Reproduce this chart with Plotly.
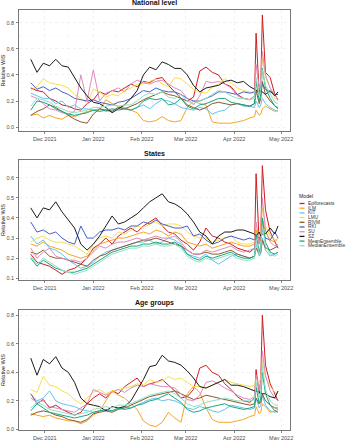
import plotly.graph_objects as go

dates = ["2021-11-22","2021-11-26","2021-11-30","2021-12-04","2021-12-08","2021-12-12","2021-12-16","2021-12-20",
         "2021-12-24","2021-12-28","2022-01-01","2022-01-05","2022-01-09","2022-01-13","2022-01-17","2022-01-21",
         "2022-01-25","2022-01-29","2022-02-02","2022-02-06","2022-02-10","2022-02-14","2022-02-18","2022-02-22",
         "2022-02-26","2022-03-02","2022-03-06","2022-03-10","2022-03-14","2022-03-18","2022-03-22","2022-03-26",
         "2022-03-30","2022-04-03","2022-04-07","2022-04-11","2022-04-14","2022-04-15","2022-04-17","2022-04-18",
         "2022-04-19","2022-04-21","2022-04-24","2022-04-27","2022-04-29"]

models = ["Epiforecasts","ILM","KIT","LMU","RIVM","RKI","SU","SZ","MeanEnsemble","MedianEnsemble"]
colors = ["#D01C1F","#F5A623","#66C2F0","#F7E04B","#8B5A2B","#4B5FC4","#E08BBE","#1A1A1A","#17A77E","#8FE0C4"]

# ---- National level ----
nat_Epiforecasts = [0.30,0.28,0.27,0.22,0.20,0.17,0.16,0.14,0.13,0.18,0.21,0.27,0.25,0.28,0.27,0.30,0.33,0.31,0.35,0.34,0.37,0.38,0.32,0.27,0.22,0.20,0.23,0.43,0.46,0.42,0.40,0.33,0.31,0.25,0.22,0.21,0.24,0.72,0.25,0.33,0.86,0.42,0.38,0.25,0.21]
nat_ILM = [0.09,0.10,0.07,0.09,0.07,0.06,0.09,0.08,0.10,0.12,0.13,0.13,0.21,0.18,0.16,0.15,0.13,0.11,0.05,0.04,0.05,0.08,0.05,0.04,0.05,0.15,0.20,0.18,0.17,0.04,0.03,0.03,0.03,0.04,0.05,0.07,0.08,0.13,0.09,0.10,0.14,0.16,0.14,0.12,0.13]
nat_KIT = [0.26,0.24,0.22,0.22,0.18,0.20,0.15,0.17,0.14,0.14,0.13,0.14,0.12,0.13,0.15,0.14,0.13,0.15,0.17,0.14,0.18,0.21,0.20,0.18,0.15,0.14,0.13,0.15,0.14,0.10,0.12,0.13,0.17,0.18,0.16,0.16,0.15,0.20,0.15,0.17,0.22,0.18,0.15,0.13,0.12]
nat_LMU = [0.28,0.31,0.37,0.34,0.33,0.32,0.30,0.25,0.22,0.18,0.29,0.27,0.23,0.25,0.24,0.28,0.30,0.33,0.33,0.35,0.37,0.33,0.31,0.38,0.37,0.33,0.29,0.27,0.26,0.31,0.33,0.37,0.34,0.30,0.28,0.27,0.26,0.32,0.30,0.33,0.53,0.38,0.30,0.22,0.20]
nat_RIVM = [0.09,0.12,0.14,0.17,0.15,0.12,0.09,0.06,0.04,0.03,0.10,0.14,0.13,0.12,0.15,0.14,0.16,0.18,0.21,0.23,0.25,0.27,0.25,0.24,0.22,0.17,0.15,0.13,0.15,0.18,0.19,0.18,0.17,0.18,0.17,0.16,0.18,0.28,0.18,0.22,0.35,0.25,0.20,0.16,0.14]
nat_RKI = [0.34,0.29,0.31,0.28,0.30,0.27,0.25,0.22,0.21,0.20,0.21,0.19,0.18,0.17,0.19,0.20,0.22,0.25,0.28,0.27,0.30,0.28,0.27,0.27,0.25,0.22,0.20,0.20,0.22,0.24,0.27,0.27,0.26,0.25,0.27,0.26,0.27,0.28,0.26,0.28,0.33,0.29,0.27,0.25,0.25]
nat_SU = [0.24,0.22,0.18,0.14,0.13,0.11,0.10,0.12,0.40,0.20,0.44,0.20,0.26,0.28,0.30,0.27,0.33,0.36,0.34,0.33,0.35,0.36,0.33,0.30,0.28,0.22,0.17,0.24,0.35,0.34,0.35,0.33,0.30,0.24,0.22,0.21,0.24,0.48,0.30,0.35,0.58,0.40,0.30,0.25,0.21]
nat_SZ = [0.52,0.42,0.49,0.47,0.52,0.47,0.46,0.38,0.30,0.24,0.19,0.18,0.15,0.11,0.14,0.17,0.22,0.28,0.40,0.46,0.44,0.50,0.48,0.45,0.45,0.40,0.32,0.27,0.30,0.31,0.32,0.35,0.36,0.34,0.35,0.31,0.29,0.28,0.27,0.28,0.27,0.25,0.28,0.24,0.27]
nat_MeanEnsemble = [0.13,0.20,0.19,0.17,0.14,0.12,0.10,0.09,0.10,0.11,0.13,0.12,0.13,0.14,0.13,0.14,0.13,0.15,0.20,0.22,0.21,0.22,0.17,0.18,0.22,0.16,0.14,0.17,0.18,0.20,0.22,0.22,0.19,0.18,0.17,0.16,0.18,0.35,0.20,0.25,0.45,0.30,0.22,0.16,0.15]
nat_MedianEnsemble = [0.16,0.22,0.21,0.19,0.16,0.14,0.12,0.11,0.12,0.13,0.15,0.15,0.16,0.17,0.16,0.17,0.17,0.20,0.24,0.26,0.25,0.27,0.23,0.22,0.25,0.20,0.18,0.20,0.22,0.25,0.28,0.27,0.24,0.22,0.22,0.21,0.22,0.38,0.24,0.30,0.44,0.32,0.25,0.19,0.18]

# ---- States ----
st_Epiforecasts = [0.22,0.18,0.17,0.16,0.14,0.12,0.14,0.15,0.17,0.20,0.25,0.27,0.30,0.27,0.31,0.33,0.35,0.33,0.36,0.38,0.40,0.36,0.33,0.32,0.29,0.27,0.24,0.28,0.35,0.31,0.30,0.28,0.27,0.25,0.24,0.23,0.25,0.62,0.27,0.32,0.66,0.44,0.33,0.28,0.25]
st_ILM = [0.27,0.26,0.28,0.26,0.25,0.24,0.22,0.21,0.20,0.21,0.24,0.27,0.28,0.29,0.30,0.30,0.31,0.32,0.33,0.32,0.34,0.33,0.31,0.33,0.32,0.28,0.27,0.26,0.27,0.25,0.26,0.27,0.28,0.27,0.26,0.26,0.27,0.34,0.28,0.30,0.40,0.33,0.29,0.28,0.30]
st_KIT = [0.31,0.27,0.29,0.25,0.24,0.22,0.19,0.17,0.15,0.16,0.18,0.21,0.23,0.24,0.25,0.26,0.27,0.28,0.28,0.29,0.27,0.28,0.30,0.29,0.27,0.22,0.21,0.20,0.22,0.19,0.17,0.19,0.21,0.22,0.21,0.20,0.21,0.27,0.21,0.22,0.30,0.24,0.21,0.22,0.23]
st_LMU = [0.28,0.30,0.31,0.29,0.28,0.28,0.27,0.26,0.24,0.22,0.27,0.30,0.31,0.30,0.33,0.32,0.34,0.36,0.35,0.37,0.38,0.36,0.37,0.37,0.36,0.33,0.31,0.30,0.30,0.28,0.29,0.30,0.31,0.28,0.27,0.27,0.28,0.37,0.30,0.33,0.45,0.36,0.31,0.29,0.30]
st_RIVM = [0.23,0.22,0.24,0.21,0.20,0.20,0.19,0.18,0.17,0.16,0.19,0.21,0.22,0.24,0.25,0.26,0.27,0.28,0.29,0.29,0.30,0.29,0.28,0.27,0.26,0.24,0.22,0.22,0.23,0.22,0.22,0.23,0.24,0.22,0.21,0.20,0.21,0.25,0.22,0.23,0.29,0.25,0.24,0.25,0.26]
st_RKI = [0.38,0.33,0.34,0.32,0.33,0.30,0.28,0.27,0.36,0.30,0.30,0.33,0.34,0.34,0.35,0.34,0.36,0.36,0.38,0.37,0.39,0.37,0.36,0.35,0.35,0.36,0.31,0.32,0.29,0.27,0.28,0.30,0.31,0.30,0.29,0.30,0.29,0.31,0.30,0.31,0.34,0.30,0.29,0.33,0.30]
st_SU = [0.25,0.20,0.23,0.25,0.21,0.20,0.19,0.19,0.18,0.20,0.23,0.26,0.25,0.27,0.28,0.28,0.29,0.30,0.29,0.30,0.31,0.30,0.30,0.31,0.28,0.24,0.22,0.22,0.24,0.23,0.24,0.25,0.26,0.24,0.23,0.24,0.25,0.38,0.27,0.31,0.50,0.34,0.28,0.26,0.27]
st_SZ = [0.45,0.40,0.45,0.44,0.48,0.43,0.39,0.35,0.27,0.24,0.27,0.31,0.36,0.41,0.37,0.38,0.40,0.42,0.45,0.48,0.50,0.52,0.48,0.47,0.45,0.42,0.38,0.33,0.31,0.27,0.31,0.33,0.33,0.34,0.34,0.33,0.32,0.31,0.33,0.31,0.32,0.32,0.35,0.32,0.36]
st_MeanEnsemble = [0.20,0.16,0.19,0.17,0.15,0.14,0.13,0.13,0.14,0.15,0.17,0.19,0.21,0.23,0.24,0.25,0.26,0.26,0.27,0.27,0.28,0.27,0.27,0.28,0.26,0.22,0.20,0.19,0.21,0.20,0.21,0.22,0.23,0.21,0.20,0.20,0.21,0.32,0.23,0.26,0.40,0.28,0.23,0.22,0.23]
st_MedianEnsemble = [0.21,0.17,0.20,0.18,0.16,0.14,0.13,0.12,0.13,0.14,0.16,0.18,0.20,0.22,0.23,0.24,0.25,0.25,0.26,0.26,0.27,0.26,0.26,0.27,0.25,0.21,0.19,0.18,0.20,0.19,0.20,0.21,0.22,0.20,0.19,0.19,0.20,0.29,0.22,0.24,0.36,0.26,0.22,0.21,0.22]

# ---- Age groups ----
age_Epiforecasts = [0.25,0.18,0.21,0.15,0.17,0.14,0.12,0.10,0.12,0.18,0.22,0.25,0.22,0.27,0.25,0.30,0.33,0.36,0.30,0.32,0.33,0.35,0.31,0.27,0.22,0.23,0.28,0.43,0.45,0.40,0.38,0.32,0.28,0.23,0.20,0.19,0.22,0.42,0.25,0.35,0.80,0.45,0.32,0.25,0.20]
age_ILM = [0.11,0.10,0.09,0.10,0.08,0.07,0.06,0.06,0.04,0.06,0.10,0.13,0.20,0.27,0.24,0.22,0.18,0.14,0.06,0.03,0.02,0.05,0.12,0.08,0.05,0.25,0.30,0.26,0.15,0.07,0.05,0.05,0.05,0.06,0.07,0.09,0.10,0.16,0.11,0.12,0.18,0.16,0.12,0.13,0.14]
age_KIT = [0.25,0.20,0.22,0.27,0.20,0.18,0.17,0.16,0.14,0.13,0.12,0.13,0.14,0.13,0.15,0.16,0.15,0.17,0.19,0.21,0.22,0.20,0.21,0.20,0.18,0.15,0.14,0.16,0.15,0.13,0.12,0.14,0.17,0.16,0.15,0.14,0.15,0.22,0.15,0.17,0.24,0.17,0.13,0.12,0.13]
age_LMU = [0.28,0.26,0.37,0.31,0.30,0.27,0.25,0.21,0.18,0.22,0.26,0.28,0.25,0.27,0.28,0.29,0.30,0.32,0.31,0.35,0.33,0.34,0.37,0.35,0.36,0.33,0.30,0.30,0.29,0.31,0.33,0.35,0.33,0.32,0.31,0.30,0.31,0.36,0.33,0.36,0.48,0.37,0.30,0.26,0.25]
age_RIVM = [0.10,0.12,0.13,0.12,0.10,0.09,0.07,0.06,0.05,0.07,0.11,0.12,0.13,0.12,0.14,0.15,0.17,0.19,0.21,0.23,0.24,0.25,0.26,0.27,0.25,0.23,0.21,0.22,0.24,0.23,0.22,0.21,0.20,0.19,0.18,0.17,0.18,0.22,0.18,0.19,0.25,0.20,0.17,0.15,0.15]
age_RKI = None
age_SU = [0.22,0.19,0.20,0.16,0.15,0.14,0.13,0.12,0.15,0.18,0.28,0.26,0.24,0.26,0.28,0.26,0.29,0.31,0.30,0.32,0.31,0.30,0.30,0.29,0.25,0.21,0.20,0.24,0.33,0.34,0.32,0.29,0.27,0.24,0.22,0.21,0.23,0.38,0.27,0.33,0.55,0.38,0.27,0.22,0.20]
age_SZ = [0.50,0.38,0.49,0.46,0.51,0.43,0.40,0.33,0.22,0.18,0.17,0.16,0.13,0.16,0.15,0.16,0.20,0.27,0.35,0.44,0.45,0.52,0.48,0.47,0.45,0.41,0.36,0.30,0.29,0.31,0.33,0.35,0.31,0.31,0.30,0.28,0.27,0.27,0.26,0.26,0.25,0.25,0.23,0.22,0.27]
age_MeanEnsemble = [0.13,0.18,0.15,0.12,0.11,0.10,0.09,0.08,0.09,0.10,0.12,0.13,0.14,0.13,0.15,0.14,0.15,0.17,0.18,0.20,0.21,0.23,0.25,0.22,0.19,0.14,0.12,0.13,0.15,0.16,0.17,0.18,0.16,0.15,0.14,0.15,0.16,0.30,0.18,0.22,0.40,0.25,0.17,0.13,0.12]
age_MedianEnsemble = [0.15,0.19,0.17,0.14,0.13,0.12,0.11,0.10,0.11,0.12,0.14,0.15,0.16,0.15,0.17,0.17,0.18,0.20,0.22,0.24,0.25,0.26,0.27,0.25,0.22,0.18,0.16,0.17,0.19,0.20,0.21,0.22,0.21,0.20,0.20,0.20,0.21,0.33,0.22,0.27,0.45,0.28,0.20,0.17,0.17]

national = [nat_Epiforecasts, nat_ILM, nat_KIT, nat_LMU, nat_RIVM, nat_RKI, nat_SU, nat_SZ, nat_MeanEnsemble, nat_MedianEnsemble]
states = [st_Epiforecasts, st_ILM, st_KIT, st_LMU, st_RIVM, st_RKI, st_SU, st_SZ, st_MeanEnsemble, st_MedianEnsemble]
agegroups = [age_Epiforecasts, age_ILM, age_KIT, age_LMU, age_RIVM, age_RKI, age_SU, age_SZ, age_MeanEnsemble, age_MedianEnsemble]

panel_titles = ["National level", "States", "Age groups"]
y_ranges = [[-0.03, 0.898], [0.0915, 0.688], [-0.004, 0.837]]
y_dticks = [0.2, 0.1, 0.2]

for grp in (national, states, agegroups):
    for s in grp:
        if s is not None:
            assert len(s) == len(dates), len(s)

W, H = 348, 440
FONT = "Liberation Sans, Arial, sans-serif"
x_left, x_right = 19, 290
panel_px = [(10, 131), (160, 280), (310, 430)]

fig = go.Figure()
panels = [national, states, agegroups]
for p, grp in enumerate(panels):
    sfx = "" if p == 0 else str(p + 1)
    for m, name in enumerate(models):
        vals = grp[m]
        if vals is None:
            continue
        fig.add_trace(go.Scatter(
            x=dates, y=vals, mode="lines", name=name,
            line=dict(color=colors[m], width=1.0),
            xaxis="x" + sfx, yaxis="y" + sfx, showlegend=False,
            hoverinfo="skip"))

grid_col = "#E6E6E6"
minor_col = "#F1F1F1"
layout = dict(
    width=W, height=H, margin=dict(l=0, r=0, t=0, b=0, autoexpand=False),
    paper_bgcolor="white", plot_bgcolor="white",
    font=dict(family=FONT, color="#222"),
    showlegend=False,
)
annotations = []
shapes = []
for p in range(3):
    sfx = "" if p == 0 else str(p + 1)
    top, bot = panel_px[p]
    ydom = [1 - bot / H, 1 - top / H]
    layout["xaxis" + sfx] = dict(
        domain=[x_left / W, x_right / W], anchor="y" + sfx, type="date",
        range=["2021-11-14 12:00", "2022-05-06 16:00"],
        dtick="M1", tick0="2021-12-01", tickformat="%b %Y",
        ticks="outside", ticklen=2, tickwidth=0.6, tickcolor="#333",
        tickfont=dict(size=5.5, color="#4D4D4D", family=FONT),
        showgrid=True, gridcolor=grid_col, gridwidth=0.5, griddash="dot",
        minor=dict(dtick="M1", tick0="2021-11-16", showgrid=True,
                   gridcolor=minor_col, gridwidth=0.4, griddash="dot"),
        showline=True, mirror=True, linecolor="#555", linewidth=0.8,
        zeroline=False, ticklabelstandoff=1, automargin=False,
    )
    layout["yaxis" + sfx] = dict(
        domain=ydom, anchor="x" + sfx, range=y_ranges[p],
        dtick=y_dticks[p], tick0=0, tickformat=".1f",
        ticks="outside", ticklen=2, tickwidth=0.6, tickcolor="#333",
        tickfont=dict(size=5.5, color="#4D4D4D", family=FONT),
        showgrid=True, gridcolor=grid_col, gridwidth=0.5, griddash="dot",
        minor=dict(dtick=y_dticks[p] / 2, showgrid=True,
                   gridcolor=minor_col, gridwidth=0.4, griddash="dot"),
        showline=True, mirror=True, linecolor="#555", linewidth=0.8,
        zeroline=False, ticklabelstandoff=1, automargin=False,
        title=dict(text="Relative WIS", font=dict(size=5.5, color="#222", family=FONT), standoff=2),
    )
    annotations.append(dict(
        text="<b>" + panel_titles[p] + "</b>", xref="paper", yref="paper",
        x=(x_left + x_right) / 2 / W, y=1 - (top - 1.5) / H,
        xanchor="center", yanchor="bottom", showarrow=False,
        font=dict(size=7, color="#111", family=FONT)))

# legend drawn manually (compact ggplot-style)
leg_x = 297
annotations.append(dict(text="Model", xref="paper", yref="paper",
                        x=leg_x / W, y=1 - 196 / H, xanchor="left", yanchor="middle",
                        showarrow=False, font=dict(size=5.2, color="#222", family=FONT)))
for i, name in enumerate(models):
    yy = 203.5 + i * 4.7
    shapes.append(dict(type="line", xref="paper", yref="paper",
                       x0=299.5 / W, x1=304.5 / W, y0=1 - yy / H, y1=1 - yy / H,
                       line=dict(color=colors[i], width=1.3)))
    annotations.append(dict(text=name, xref="paper", yref="paper",
                            x=306 / W, y=1 - yy / H, xanchor="left", yanchor="middle",
                            showarrow=False, font=dict(size=4.8, color="#333", family=FONT)))

layout["annotations"] = annotations
layout["shapes"] = shapes
fig.update_layout(**layout)
fig.write_html("out.html", config={"displayModeBar": False, "staticPlot": True},
               post_script="document.body.style.margin='0';document.body.style.padding='0';")
